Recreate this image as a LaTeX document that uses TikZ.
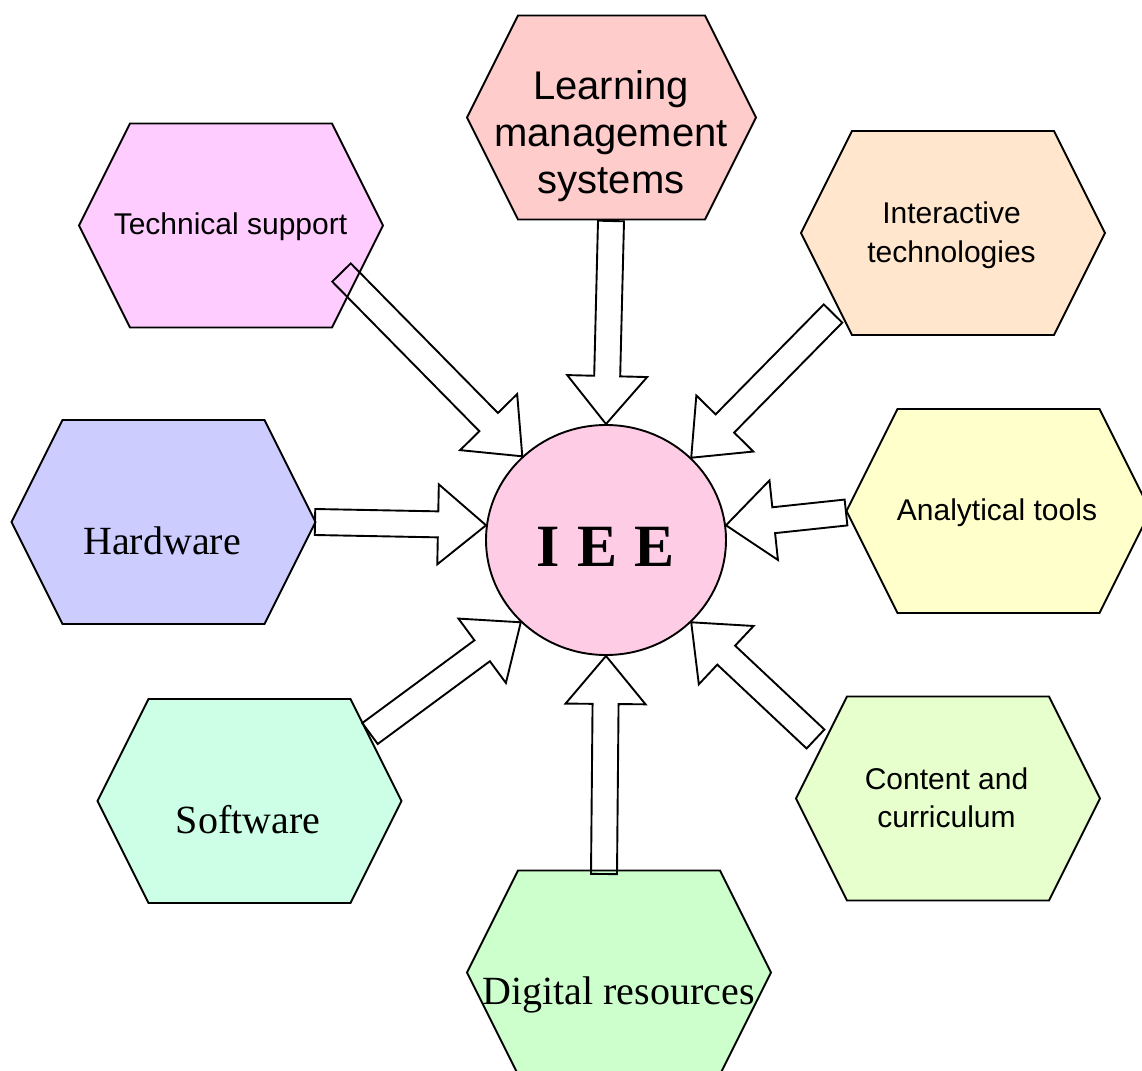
\documentclass[tikz,border=0pt]{standalone}
\usepackage{fontspec}
\setmainfont{Liberation Serif}
\setsansfont{Liberation Sans}
\usepackage{xcolor}
\usepackage{tikz}
\usetikzlibrary{calc}
\usetikzlibrary{shapes.geometric}

\definecolor{lmsrose}{HTML}{FFCCCC}
\definecolor{techmauve}{HTML}{FFCCFF}
\definecolor{interpeche}{HTML}{FFE6CC}
\definecolor{hardbleu}{HTML}{CCCCFF}
\definecolor{outiljaune}{HTML}{FFFFCC}
\definecolor{softmenthe}{HTML}{CCFFE6}
\definecolor{contenuvert}{HTML}{E6FFCC}
\definecolor{digivert}{HTML}{CCFFCC}
\definecolor{ieerose}{HTML}{FFCCE6}

\tikzset{
  hexline/.style={draw=black, line width=1.9pt, line join=miter},
  arrowline/.style={draw=black, line width=1.9pt, line join=miter},
  sanslabel/.style={font=\fontsize{30}{39}\selectfont\sffamily, align=center, inner sep=0pt},
  seriflabel/.style={font=\fontsize{40}{48}\selectfont, inner sep=0pt}
}

% hexagone : centre x, centre y, demi-largeur, couleur
\newcommand{\hexcell}[4]{%
  \filldraw[hexline, fill=#4] (#1-#3,#2) -- (#1-#3+51,#2-102) -- (#1+#3-51,#2-102)
    -- (#1+#3,#2) -- (#1+#3-51,#2+102) -- (#1-#3+51,#2+102) -- cycle;}

% grosse flèche creuse d'un point de départ vers une pointe
\newcommand{\blockarrow}[2]{%
  \coordinate (hb) at ($(#2)!48pt!(#1)$);
  \draw[arrowline] ($(#1)!13pt!90:(#2)$) -- ($(hb)!13pt!90:(#2)$) -- ($(hb)!40pt!90:(#2)$)
    -- (#2) -- ($(hb)!40pt!-90:(#2)$) -- ($(hb)!13pt!-90:(#2)$) -- ($(#1)!13pt!-90:(#2)$) -- cycle;}

\begin{document}
\begin{tikzpicture}[x=1pt, y=-1pt]
    \path[use as bounding box, clip] (0,0) rectangle (1142,1070);

    % Hexagones
    \hexcell{611.5}{117.5}{144.5}{lmsrose}
    \hexcell{231}{225.5}{152}{techmauve}
    \hexcell{953}{233}{152}{interpeche}
    \hexcell{163.5}{522}{152}{hardbleu}
    \hexcell{998.5}{511}{152}{outiljaune}
    \hexcell{249.5}{801}{152}{softmenthe}
    \hexcell{948}{798.5}{152}{contenuvert}
    \hexcell{619}{972.5}{152}{digivert}

    % Cercle central
    \node[ellipse, draw, line width=1.9pt, fill=ieerose, minimum width=240pt,
          minimum height=230pt, inner sep=0pt] (iee) at (606,540) {};
    \node[font=\fontsize{60}{60}\selectfont\bfseries, inner sep=0pt, anchor=base]
          (ieelabel) at (605.5,566) {I\hspace{17pt}E\hspace{17pt}E};

    % Textes
    \node[sanslabel, font=\fontsize{40}{47}\selectfont\sffamily] (lms) at (611,136.5)
          {Learning\\management\\systems};
    \node[sanslabel, anchor=base] (tech) at (230.5,234) {Technical support};
    \node[sanslabel] (inter) at (951.5,235) {Interactive\\technologies};
    \node[sanslabel, anchor=base] (tools) at (997,520) {Analytical tools};
    \node[sanslabel, font=\fontsize{30}{38}\selectfont\sffamily] (content) at (946.5,797.3)
          {Content and\\curriculum};
    \node[seriflabel, anchor=base] (hard) at (162,554) {Hardware};
    \node[seriflabel, anchor=base] (soft) at (248,833) {Software};
    \node[seriflabel, anchor=base] (digital) at (618.5,1004) {Digital resources};

    % Départs des flèches
    \coordinate (lms-out) at (611,221);
    \coordinate (tech-out) at (341.5,272.5);
    \coordinate (inter-out) at (833,313.5);
    \coordinate (hard-out) at (315,522);
    \coordinate (tools-out) at (846,512.5);
    \coordinate (soft-out) at (370,733.5);
    \coordinate (content-out) at (815.5,739);
    \coordinate (digital-out) at (604,874);

    % Flèches vers le centre
    \blockarrow{lms-out}{iee.90}
    \blockarrow{tech-out}{iee.135}
    \blockarrow{inter-out}{iee.44}
    \blockarrow{hard-out}{iee.173}
    \blockarrow{tools-out}{iee.7}
    \blockarrow{soft-out}{iee.224}
    \blockarrow{content-out}{iee.316}
    \blockarrow{digital-out}{iee.270}
\end{tikzpicture}
\end{document}
